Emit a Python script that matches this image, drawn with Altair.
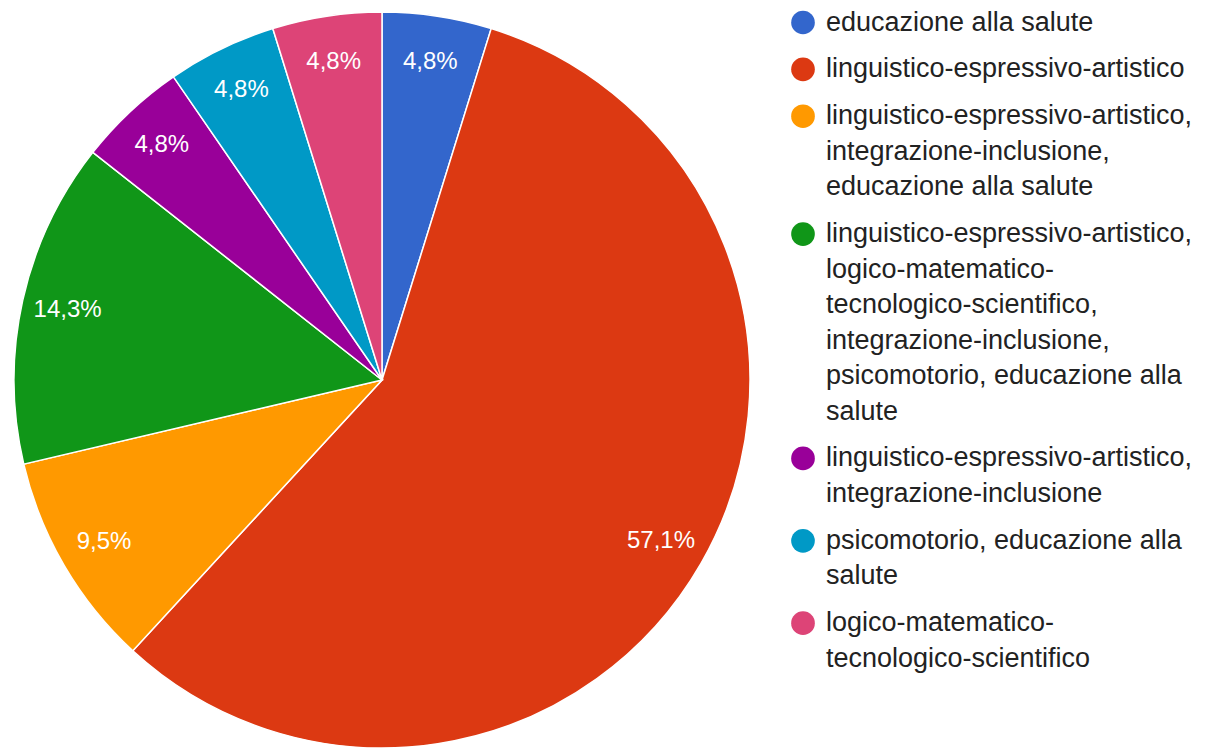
import altair as alt
import pandas as pd

FONT = "Liberation Sans, Arial, sans-serif"

categories = [
    "educazione alla salute",
    "linguistico-espressivo-artistico",
    "linguistico-espressivo-artistico, integrazione-inclusione, educazione alla salute",
    "linguistico-espressivo-artistico, logico-matematico-tecnologico-scientifico, integrazione-inclusione, psicomotorio, educazione alla salute",
    "linguistico-espressivo-artistico, integrazione-inclusione",
    "psicomotorio, educazione alla salute",
    "logico-matematico-tecnologico-scientifico",
]
percentages = [4.8, 57.1, 9.5, 14.3, 4.8, 4.8, 4.8]
colors = ["#3366cc", "#dc3912", "#ff9900", "#109618", "#990099", "#0099c6", "#dd4477"]
legend_lines = [
    ["educazione alla salute"],
    ["linguistico-espressivo-artistico"],
    ["linguistico-espressivo-artistico,", "integrazione-inclusione,", "educazione alla salute"],
    ["linguistico-espressivo-artistico,", "logico-matematico-", "tecnologico-scientifico,",
     "integrazione-inclusione,", "psicomotorio, educazione alla", "salute"],
    ["linguistico-espressivo-artistico,", "integrazione-inclusione"],
    ["psicomotorio, educazione alla", "salute"],
    ["logico-matematico-", "tecnologico-scientifico"],
]

pie_df = pd.DataFrame({
    "category": categories,
    "pct": percentages,
    "idx": list(range(len(categories))),
})

# legend rows: one row per wrapped line; extra gap between entries
ENTRY_GAP = 0.32
rows = []
g = 0
for i, (cat, lines) in enumerate(zip(categories, legend_lines)):
    for j, t in enumerate(lines):
        rows.append({"category": cat, "text": t, "line": j, "pos": g + i * ENTRY_GAP})
        g += 1
legend_df = pd.DataFrame(rows)

color_scale = alt.Scale(domain=categories, range=colors)

base = alt.Chart(pie_df).encode(
    theta=alt.Theta("pct:Q", stack=True),
    order=alt.Order("idx:Q", sort="ascending"),
)
arcs = base.mark_arc(outerRadius=368, stroke="white", strokeWidth=1.5).encode(
    color=alt.Color("category:N", scale=color_scale, legend=None),
)
labels = base.transform_calculate(
    label="replace(format(datum.pct, '.1f'), '.', ',') + '%'"
).mark_text(
    radius=322, fontSize=24, font=FONT, color="white", align="center", baseline="middle"
).encode(
    detail="category:N",
    text="label:N",
)
pie = alt.layer(arcs, labels).properties(width=740, height=736)

yscale = alt.Scale(domain=[0, 1], range=[10.5, 46.0])
legend_text = alt.Chart(legend_df).mark_text(
    align="left", baseline="middle", fontSize=27, font=FONT, color="#222222"
).encode(
    x=alt.value(37),
    y=alt.Y("pos:Q", scale=yscale, axis=None),
    text="text:N",
)
legend_dots = alt.Chart(legend_df).transform_filter("datum.line == 0").mark_point(
    filled=True, shape="circle", size=560, opacity=1
).encode(
    x=alt.value(14),
    y=alt.Y("pos:Q", scale=yscale, axis=None),
    color=alt.Color("category:N", scale=color_scale, legend=None),
)
legend = alt.layer(legend_dots, legend_text).properties(width=400, height=700)

chart = alt.hconcat(pie, legend, spacing=36).properties(
    padding={"left": 3, "top": 0, "right": 0, "bottom": 0},
).configure_view(stroke=None)

chart.save("out.html", embed_options={"renderer": "svg", "actions": False})
